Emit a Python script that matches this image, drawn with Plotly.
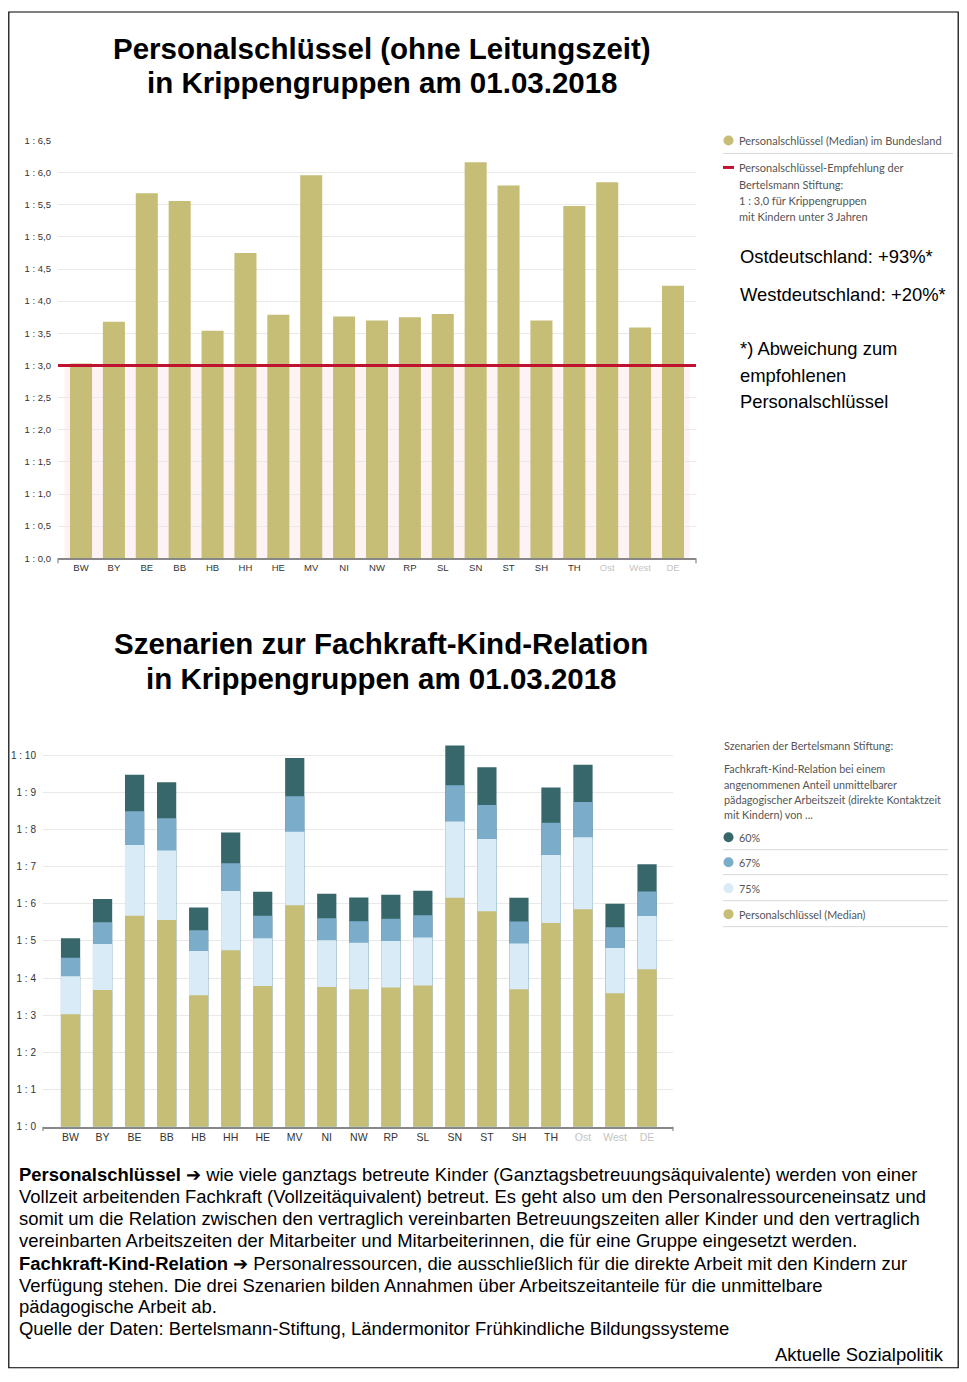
import plotly.graph_objects as go

# ---------------- data ----------------
cats = ["BW", "BY", "BE", "BB", "HB", "HH", "HE", "MV", "NI", "NW",
        "RP", "SL", "SN", "ST", "SH", "TH", "Ost", "West", "DE"]
grey_cats = ["Ost", "West", "DE"]

# Personalschlüssel (Median) 1 : x
median = [3.03, 3.68, 5.68, 5.56, 3.54, 4.75, 3.79, 5.96, 3.76, 3.70,
          3.75, 3.80, 6.16, 5.80, 3.70, 5.48, 5.85, 3.59, 4.24]
# Fachkraft-Kind-Relation scenarios (top of each stacked segment)
fkr75 = [4.05, 4.92, 7.58, 7.43, 4.73, 6.34, 5.07, 7.94, 5.02, 4.95,
         5.00, 5.09, 8.21, 7.74, 4.93, 7.31, 7.79, 4.81, 5.67]
fkr67 = [4.55, 5.50, 8.49, 8.30, 5.29, 7.09, 5.68, 8.89, 5.61, 5.53,
         5.60, 5.69, 9.19, 8.66, 5.52, 8.18, 8.74, 5.37, 6.33]
fkr60 = [5.07, 6.13, 9.47, 9.27, 5.90, 7.92, 6.32, 9.92, 6.27, 6.17,
         6.24, 6.35, 10.26, 9.67, 6.16, 9.13, 9.74, 6.00, 7.06]
recommendation = 3.0

top_ticks = [0, 0.5, 1, 1.5, 2, 2.5, 3, 3.5, 4, 4.5, 5, 5.5, 6, 6.5]
top_ticklabels = ["1 : 0,0", "1 : 0,5", "1 : 1,0", "1 : 1,5", "1 : 2,0", "1 : 2,5",
                  "1 : 3,0", "1 : 3,5", "1 : 4,0", "1 : 4,5", "1 : 5,0", "1 : 5,5",
                  "1 : 6,0", "1 : 6,5"]
bot_ticks = [0, 1, 2, 3, 4, 5, 6, 7, 8, 9, 10]
bot_ticklabels = ["1 : 0", "1 : 1", "1 : 2", "1 : 3", "1 : 4", "1 : 5",
                  "1 : 6", "1 : 7", "1 : 8", "1 : 9", "1 : 10"]

# ---------------- colours ----------------
GOLD = "#c6bd76"
C60 = "#37676a"
C67 = "#7badcb"
C75 = "#d9ebf6"
RED = "#bf1230"

W, H, OFF = 951, 1366, 8
# vertical calibration of the rendered page
VOFF, VSC = 13.5, 0.9916


def X(px):
    return (px - OFF) / W


def Y(py):
    return 1 - ((py - VOFF) / VSC) / H


ticktext = [f"<span style='color:#c4c4c4'>{c}</span>" if c in grey_cats else c for c in cats]

fig = go.Figure()

fig.add_trace(go.Bar(x=cats, y=median, marker=dict(color=GOLD, line=dict(width=0)),
                     width=0.67, xaxis="x", yaxis="y", showlegend=False,
                     name="Personalschlüssel (Median) im Bundesland"))

for vals, col, nm in [(fkr60, C60, "60%"), (fkr67, C67, "67%"),
                      (fkr75, C75, "75%"), (median, GOLD, "Personalschlüssel (Median)")]:
    fig.add_trace(go.Bar(x=cats, y=vals, marker=dict(color=col, line=dict(width=0)),
                         width=0.6, xaxis="x2", yaxis="y2", showlegend=False, name=nm))

axfont = dict(family="Liberation Sans, Arial", size=9.5, color="#333333")

fig.update_layout(
    width=W, height=H, margin=dict(l=0, r=0, t=0, b=0),
    paper_bgcolor="white", plot_bgcolor="rgba(0,0,0,0)",
    barmode="overlay", showlegend=False,
    xaxis=dict(domain=[X(58), X(696)], range=[-0.7, 18.7], type="category",
               tickvals=cats, ticktext=ticktext, tickfont=axfont,
               showline=True, linecolor="#888888", linewidth=1.5,
               showgrid=False, ticks="", ticklen=0, anchor="y"),
    yaxis=dict(domain=[Y(558), Y(140)], range=[0, 6.5],
               tickvals=top_ticks, ticktext=top_ticklabels, tickfont=axfont,
               showgrid=True, gridcolor="#e9e9e9", gridwidth=1,
               zeroline=False, showline=False, anchor="x", ticks="", ticklabelstandoff=6),
    xaxis2=dict(domain=[X(43), X(673)], range=[-0.86, 18.81], type="category",
                tickvals=cats, ticktext=ticktext,
                tickfont=dict(family="Liberation Sans, Arial", size=10.5, color="#333333"),
                showline=True, linecolor="#888888", linewidth=1.5,
                showgrid=False, ticks="", anchor="y2"),
    yaxis2=dict(domain=[Y(1126.7), Y(740)], range=[0, 10.4],
                tickvals=bot_ticks, ticktext=bot_ticklabels,
                tickfont=dict(family="Liberation Sans, Arial", size=10, color="#333333"),
                showgrid=True, gridcolor="#e9e9e9", gridwidth=1,
                zeroline=False, showline=False, anchor="x2", ticks="", ticklabelstandoff=6),
)

shapes = []
# pink zone below recommendation
shapes.append(dict(type="rect", xref="x domain", yref="y", x0=0.01, x1=0.99, y0=0, y1=recommendation,
                   fillcolor="rgba(240,160,180,0.13)", line=dict(width=0), layer="below"))
# recommendation line
shapes.append(dict(type="line", xref="x domain", yref="y", x0=0, x1=1, y0=recommendation, y1=recommendation,
                   line=dict(color=RED, width=3), layer="above"))
# small end ticks of axes
shapes.append(dict(type="line", xref="paper", yref="paper", x0=X(58), x1=X(58), y0=Y(558), y1=Y(563),
                   line=dict(color="#888888", width=1.2)))
shapes.append(dict(type="line", xref="paper", yref="paper", x0=X(696), x1=X(696), y0=Y(558), y1=Y(563),
                   line=dict(color="#888888", width=1.2)))
shapes.append(dict(type="line", xref="paper", yref="paper", x0=X(43), x1=X(43), y0=Y(1126.7), y1=Y(1131),
                   line=dict(color="#888888", width=1.2)))
shapes.append(dict(type="line", xref="paper", yref="paper", x0=X(673), x1=X(673), y0=Y(1126.7), y1=Y(1131),
                   line=dict(color="#888888", width=1.2)))
# outer border
shapes.append(dict(type="rect", xref="paper", yref="paper", x0=X(8.8), x1=X(958.2), y0=Y(1367.8), y1=Y(11.5),
                   line=dict(color="black", width=1.2), fillcolor="rgba(0,0,0,0)"))

# top legend
shapes.append(dict(type="circle", xref="paper", yref="paper", x0=X(723.5), x1=X(733.5), y0=Y(145), y1=Y(135),
                   fillcolor=GOLD, line=dict(width=0)))
shapes.append(dict(type="line", xref="paper", yref="paper", x0=X(723), x1=X(953), y0=Y(153), y1=Y(153),
                   line=dict(color="#d8d8d8", width=1)))
shapes.append(dict(type="line", xref="paper", yref="paper", x0=X(723), x1=X(734), y0=Y(167), y1=Y(167),
                   line=dict(color=RED, width=3)))

# bottom legend
leg_items = [(837, C60, "60%"), (862, C67, "67%"), (888, C75, "75%"), (914, GOLD, "Personalschlüssel (Median)")]
for (yy, col, lab) in leg_items:
    shapes.append(dict(type="circle", xref="paper", yref="paper", x0=X(723.5), x1=X(733.5), y0=Y(yy + 5), y1=Y(yy - 5),
                       fillcolor=col, line=dict(width=0)))
    shapes.append(dict(type="line", xref="paper", yref="paper", x0=X(723), x1=X(948), y0=Y(yy + 12.5), y1=Y(yy + 12.5),
                       line=dict(color="#d8d8d8", width=1)))

fig.update_layout(shapes=shapes)

anns = []


def ann(x, y, text, size, color="black", family="Liberation Sans, Arial", xanchor="left"):
    anns.append(dict(x=X(x), y=Y(y), xref="paper", yref="paper", text=text, showarrow=False,
                     xanchor=xanchor, yanchor="middle", align=xanchor if xanchor != "center" else "center",
                     font=dict(family=family, size=size, color=color)))


# titles
TS = 29.5
ann(382, 48, "<b>Personalschlüssel (ohne Leitungszeit)</b>", TS, xanchor="center")
ann(382, 82, "<b>in Krippengruppen am 01.03.2018</b>", TS, xanchor="center")
ann(381, 643, "<b>Szenarien zur Fachkraft-Kind-Relation</b>", TS, xanchor="center")
ann(381, 678, "<b>in Krippengruppen am 01.03.2018</b>", TS, xanchor="center")

LF = "Lato, Liberation Sans"
LC = "#555555"
LS = 11
LS2 = 10.8
ann(737, 140, "Personalschlüssel (Median) im Bundesland", LS, LC, LF)
for yy, t in [(167, "Personalschlüssel-Empfehlung der"), (184, "Bertelsmann Stiftung:"),
              (200, "1 : 3,0 für Krippengruppen"), (216, "mit Kindern unter 3 Jahren")]:
    ann(737, yy, t, LS, LC, LF)

for yy, t in [(256, "Ostdeutschland: +93%*"), (294, "Westdeutschland: +20%*"),
              (348, "*) Abweichung zum"), (375, "empfohlenen"), (401, "Personalschlüssel")]:
    ann(738, yy, t, 18.4)

ann(722, 745, "Szenarien der Bertelsmann Stiftung:", LS2, LC, LF)
for yy, t in [(768, "Fachkraft-Kind-Relation bei einem"), (784, "angenommenen Anteil unmittelbarer"),
              (799, "pädagogischer Arbeitszeit (direkte Kontaktzeit"), (814, "mit Kindern) von ...")]:
    ann(722, yy, t, LS2, LC, LF)
for (yy, col, lab) in leg_items:
    ann(737, yy, lab, LS2, LC, LF)

body = [
    (1174, "<b>Personalschlüssel</b> ➔ wie viele ganztags betreute Kinder (Ganztagsbetreuungsäquivalente) werden von einer"),
    (1196, "Vollzeit arbeitenden Fachkraft (Vollzeitäquivalent) betreut. Es geht also um den Personalressourceneinsatz und"),
    (1218, "somit um die Relation zwischen den vertraglich vereinbarten Betreuungszeiten aller Kinder und den vertraglich"),
    (1240, "vereinbarten Arbeitszeiten der Mitarbeiter und Mitarbeiterinnen, die für eine Gruppe eingesetzt werden."),
    (1263, "<b>Fachkraft-Kind-Relation</b> ➔ Personalressourcen, die ausschließlich für die direkte Arbeit mit den Kindern zur"),
    (1285, "Verfügung stehen. Die drei Szenarien bilden Annahmen über Arbeitszeitanteile für die unmittelbare"),
    (1307, "pädagogische Arbeit ab."),
    (1329, "Quelle der Daten: Bertelsmann-Stiftung, Ländermonitor Frühkindliche Bildungssysteme"),
]
for yy, t in body:
    ann(17, yy, t, 18.45)
ann(946, 1355, "Aktuelle Sozialpolitik", 18.45, xanchor="right")

fig.update_layout(annotations=anns)

fig.write_html("out.html")
